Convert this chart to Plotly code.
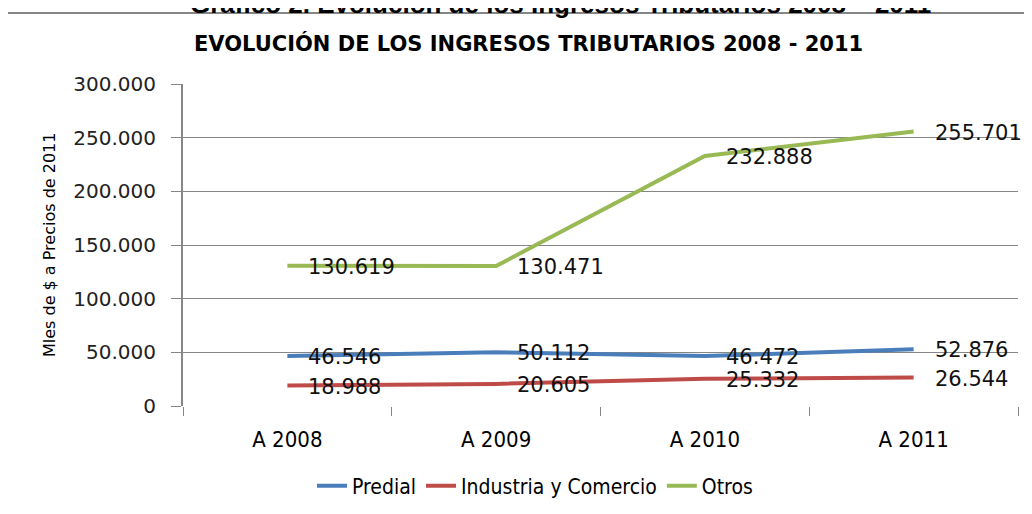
import plotly.graph_objects as go

years = ["A 2008", "A 2009", "A 2010", "A 2011"]
predial = [46546, 50112, 46472, 52876]
industria = [18988, 20605, 25332, 26544]
otros = [130619, 130471, 232888, 255701]

series = [
    ("Predial", predial, "#4A7EBB"),
    ("Industria y Comercio", industria, "#BE4B48"),
    ("Otros", otros, "#98B954"),
]

narrow = "DejaVu Sans Condensed, Liberation Sans Narrow, sans-serif"
wide = "DejaVu Sans, Verdana, sans-serif"

# the page puts the figure 8px in from the top-left corner
OFF = 8
L, T, R, B = 183 - OFF, 84 - OFF, 1018 - OFF, 406 - OFF


def px_x(p):
    return (p - 183) / 835


def px_y(p):
    return (406 - p) / 322


fig = go.Figure()
annotations = []
for name, vals, color in series:
    fig.add_trace(go.Scatter(x=years, y=vals, mode="lines", name=name,
                             line=dict(color=color, width=4), cliponaxis=False))
    # data labels, right of each point
    for x, v in zip(years, vals):
        annotations.append(dict(x=x, y=v, xref="x", yref="y", text=f"{v:,}".replace(",", "."),
                                showarrow=False, xanchor="left", yanchor="middle",
                                xshift=19, yshift=-1,
                                font=dict(family=wide, size=21, color="#111111")))

annotations.append(dict(text="<b>EVOLUCIÓN DE LOS INGRESOS TRIBUTARIOS 2008 - 2011</b>",
                        xref="paper", yref="paper", x=px_x(528), y=px_y(44),
                        showarrow=False, xanchor="center", yanchor="middle",
                        font=dict(family=wide, size=21, color="#000000")))
annotations.append(dict(text="<b>Gráfico 2. Evolución de los Ingresos Tributarios 2008 – 2011</b>",
                        xref="paper", yref="paper", x=px_x(560), y=px_y(0),
                        showarrow=False, xanchor="center", yanchor="middle", yshift=-4,
                        font=dict(family="Liberation Sans, Arial, sans-serif", size=26, color="#000000")))
annotations.append(dict(text="Mles de $ a Precios de 2011",
                        xref="paper", yref="paper", x=px_x(49), y=px_y(245),
                        showarrow=False, textangle=-90, xanchor="center", yanchor="middle",
                        font=dict(family=wide, size=16, color="#000000")))

fig.update_layout(
    width=1032, height=514,
    margin=dict(l=L, r=1032 - R, t=T, b=514 - B),
    paper_bgcolor="white", plot_bgcolor="white",
    separators=",.",
    showlegend=True,
    legend=dict(orientation="h", x=px_x(535), y=px_y(486),
                xanchor="center", yanchor="middle",
                font=dict(family=narrow, size=21, color="#000000")),
    annotations=annotations,
    shapes=[dict(type="rect", xref="paper", yref="paper",
                 x0=px_x(6), x1=px_x(1060), y0=px_y(13), y1=px_y(540),
                 line=dict(color="#868686", width=2))],
)

fig.update_xaxes(type="category", range=[-0.5, 3.5], tickson="boundaries",
                 ticks="outside", ticklen=9, tickcolor="#868686",
                 showline=False, showgrid=False, ticklabelstandoff=18,
                 tickfont=dict(family=narrow, size=22, color="#000000"))
fig.update_yaxes(range=[0, 300000], dtick=50000, tickformat=",d",
                 showgrid=True, gridcolor="#868686", gridwidth=1,
                 showline=True, linecolor="#868686", linewidth=2,
                 ticks="outside", ticklen=10, tickcolor="#868686",
                 ticklabelstandoff=11, zeroline=False,
                 tickfont=dict(family=wide, size=20, color="#222222"))

fig.write_html("out.html")
